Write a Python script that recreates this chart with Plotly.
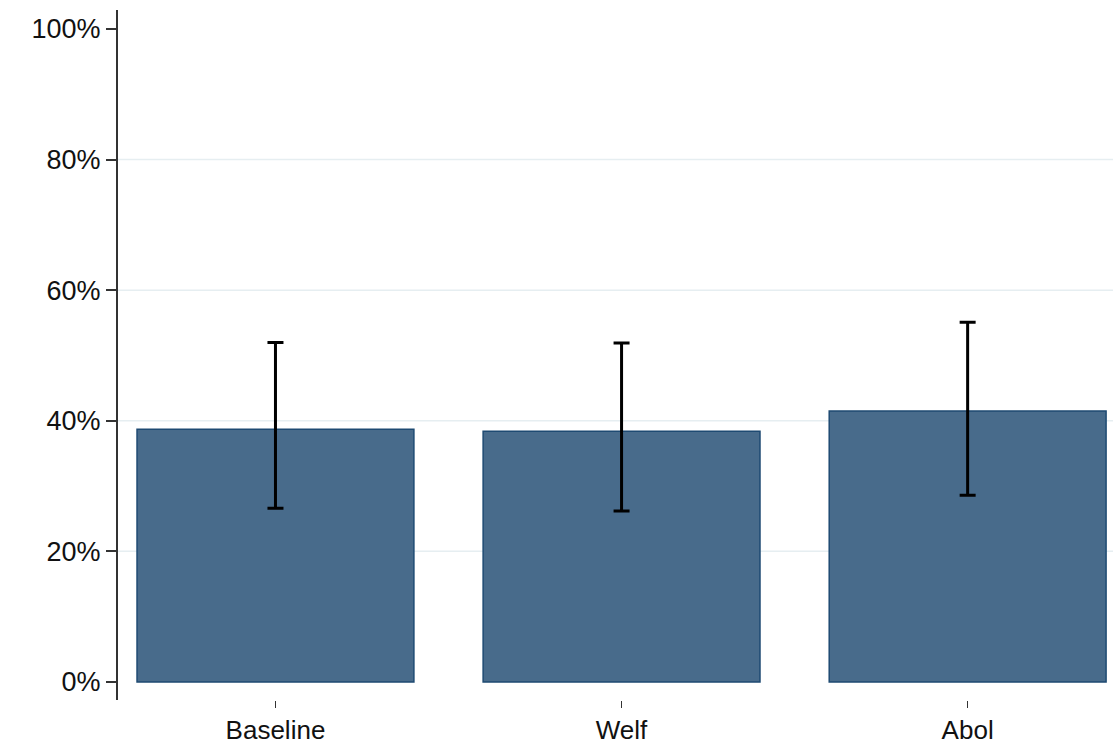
import plotly.graph_objects as go

# Share of respondents by treatment arm, with 95% confidence intervals
arms = ["Baseline", "Welf", "Abol"]
share = [38.7, 38.4, 41.5]
ci_low = [26.6, 26.2, 28.6]
ci_high = [52.0, 51.9, 55.1]

y_ticks = [0, 20, 40, 60, 80, 100]
y_tick_text = ["0%", "20%", "40%", "60%", "80%", "100%"]
grid_levels = [20, 40, 60, 80]

err_plus = [h - s for h, s in zip(ci_high, share)]
err_minus = [s - l for s, l in zip(share, ci_low)]

fig = go.Figure()
fig.add_trace(go.Bar(
    x=arms,
    y=share,
    width=0.8,
    marker=dict(color="#486b8b", line=dict(color="#1e4a72", width=1.5)),
    error_y=dict(
        type="data",
        symmetric=False,
        array=err_plus,
        arrayminus=err_minus,
        color="black",
        thickness=3,
        width=8,
    ),
    showlegend=False,
))

# light horizontal reference lines behind the bars
for g in grid_levels:
    fig.add_shape(
        type="line", xref="paper", yref="y",
        x0=0, x1=1, y0=g, y1=g,
        line=dict(color="#e6eef1", width=1.5),
        layer="below",
    )

fig.update_layout(
    width=1113,
    height=744,
    margin=dict(l=118, r=0, t=10, b=44),
    paper_bgcolor="white",
    plot_bgcolor="white",
    font=dict(family="Liberation Sans, Arial, Helvetica, sans-serif", size=27, color="#111111"),
    bargap=0.2,
)
fig.update_xaxes(
    range=[-0.455, 2.42],
    automargin=False,
    showgrid=False,
    showline=False,
    zeroline=False,
    ticks="outside",
    ticklen=7,
    tickwidth=1.2,
    tickcolor="#333333",
    tickfont=dict(size=26),
)
fig.update_yaxes(
    range=[-2.76, 102.9],
    automargin=False,
    tickvals=y_ticks,
    ticktext=y_tick_text,
    showgrid=False,
    zeroline=False,
    showline=True,
    linecolor="#333333",
    linewidth=2,
    ticks="outside",
    ticklen=10,
    tickwidth=1.5,
    tickcolor="#333333",
    tickfont=dict(size=27),
)

fig.write_html("out.html")
